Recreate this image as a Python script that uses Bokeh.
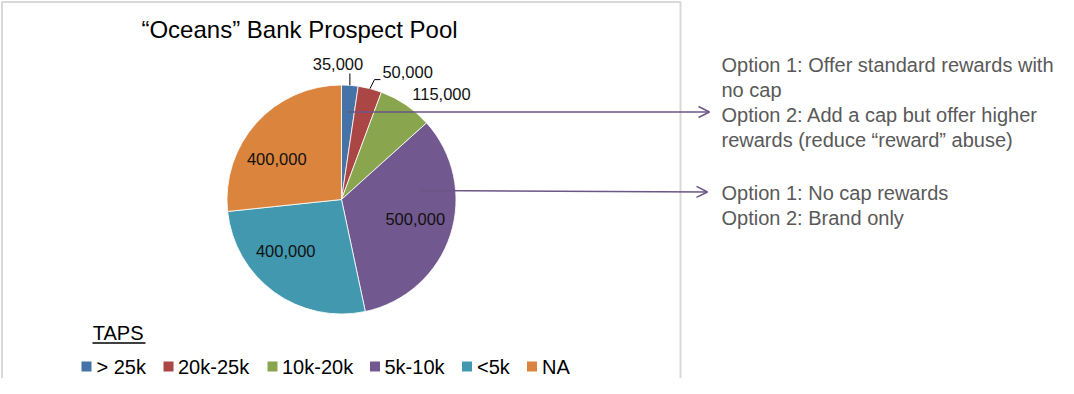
import numpy as np
from bokeh.plotting import figure
from bokeh.models import Range1d, Arrow, OpenHead, ColumnDataSource
from bokeh.core.properties import value
from bokeh.embed import file_html
from bokeh.resources import INLINE

# ---------------- data ----------------
categories = ["> 25k", "20k-25k", "10k-20k", "5k-10k", "<5k", "NA"]
values = [35000, 50000, 115000, 500000, 400000, 400000]
colors = ["#4572A7", "#AA4643", "#89A54E", "#71588F", "#4198AF", "#DB843D"]
title_text = "\u201cOceans\u201d Bank Prospect Pool"
legend_title = "TAPS"
note_lines_1 = ["Option 1: Offer standard rewards with", "no cap",
                "Option 2: Add a cap but offer higher",
                "rewards (reduce \u201creward\u201d abuse)"]
note_lines_2 = ["Option 1: No cap rewards", "Option 2: Brand only"]

# ---------------- layout / style ----------------
W, H = 1058, 378
PAGE_H = 394
FONT = "Liberation Sans"
CX, CY, R = 341.0, 199.0, 114.5          # pie centre/radius (page px)
# label placement: (radius factor, angle shift deg from slice mid)
label_polar = [(1.174, -5.7), (1.247, 13.2), (1.264, 9.5),
               (0.667, -2.9), (0.665, 11.1), (0.664, -10.4)]
legend_x = [81, 163, 267, 369.5, 461.5, 526.5]
legend_text_x = [96, 177.5, 281.5, 384, 476.5, 541.5]
BL = 0.4   # baseline correction (em) for svg text placement


def Y(py):
    return PAGE_H - py


def TY(baseline, fs):
    return Y(baseline - BL * fs)


p = figure(width=W, height=H, output_backend="svg", toolbar_location=None,
           x_range=Range1d(0, W), y_range=Range1d(Y(H), Y(0)),
           min_border=0, outline_line_color=None)
p.axis.visible = False
p.grid.visible = False
p.background_fill_color = "white"
p.border_fill_color = "white"

# chart frame
p.line([680, 680], [Y(1), Y(400)], line_color="#D9D9D9", line_width=2)
p.line([1, 680], [Y(1.5), Y(1.5)], line_color="#D9D9D9", line_width=2)
p.line([1.5, 1.5], [Y(1), Y(400)], line_color="#D9D9D9", line_width=2)

# ---------------- pie ----------------
vals = np.array(values, dtype=float)
frac = vals / vals.sum()
cum = np.concatenate([[0], np.cumsum(frac)])
start = np.pi / 2 - cum[:-1] * 2 * np.pi
end = np.pi / 2 - cum[1:] * 2 * np.pi
src = ColumnDataSource(dict(start=start, end=end, color=colors, cat=categories))
p.wedge(x=CX, y=Y(CY), radius=R, start_angle="start", end_angle="end",
        direction="clock", fill_color="color", line_color="white",
        line_width=0.8, source=src)

# data labels
LFS = 16.5
mid_deg = (cum[:-1] + cum[1:]) / 2 * 360.0   # clockwise from top
lx, ly, lt = [], [], []
for v, m, (f, s) in zip(values, mid_deg, label_polar):
    a = np.deg2rad(m + s)
    px = CX + np.sin(a) * R * f
    py = CY - np.cos(a) * R * f
    lx.append(px)
    ly.append(TY(py + 5.9, LFS))
    lt.append(f"{v:,}")
p.text(x=lx, y=ly, text=lt, text_font=value(FONT), text_font_size=f"{LFS}px",
       text_color="#111111", text_align="center", text_baseline="alphabetic")

# leader lines for the two thin slices
for i, elbow in [(0, None), (1, (4.5, -9, 6))]:
    a = np.deg2rad(mid_deg[i])
    ex = CX + np.sin(a) * R
    ey = CY - np.cos(a) * R
    if elbow is None:
        p.line([ex, ex], [Y(ey), Y(73)], line_color="black", line_width=1)
    else:
        dx, dy, hx = elbow
        p.line([ex, ex + dx, ex + dx + hx], [Y(ey), Y(ey + dy), Y(ey + dy)],
               line_color="black", line_width=1)

# title
p.text(x=[299], y=[TY(38.5, 24)], text=[title_text], text_font=value(FONT),
       text_font_size="24px", text_color="black", text_align="center",
       text_baseline="alphabetic")

# ---------------- legend ----------------
p.text(x=[92.3], y=[TY(340, 20)], text=[legend_title], text_font=value(FONT),
       text_font_size="20px", text_color="black", text_baseline="alphabetic")
p.line([92, 145], [Y(342.5), Y(342.5)], line_color="black", line_width=1.5)
p.rect(x=[x + 5 for x in legend_x], y=[Y(366)] * len(categories), width=10,
       height=10, fill_color=colors, line_color=None)
p.text(x=legend_text_x, y=[TY(374, 20)] * len(categories), text=categories,
       text_font=value(FONT), text_font_size="20px", text_color="black",
       text_baseline="alphabetic")

# ---------------- arrows & notes ----------------
ARROW_C = "#6B5686"
p.add_layout(Arrow(end=OpenHead(size=11, line_color=ARROW_C, line_width=1.5),
                   x_start=347, y_start=Y(111.5), x_end=709, y_end=Y(111.5),
                   line_color=ARROW_C, line_width=1.5))
p.add_layout(Arrow(end=OpenHead(size=11, line_color=ARROW_C, line_width=1.5),
                   x_start=418, y_start=Y(190), x_end=707, y_end=Y(191.5),
                   line_color=ARROW_C, line_width=1.5))

NFS = 20
p.text(x=[721] * 4, y=[TY(b, NFS) for b in [72, 97, 122, 147]],
       text=note_lines_1, text_font=value(FONT), text_font_size=f"{NFS}px",
       text_color="#595959", text_baseline="alphabetic")
p.text(x=[721] * 2, y=[TY(b, NFS) for b in [200, 225]], text=note_lines_2,
       text_font=value(FONT), text_font_size=f"{NFS}px", text_color="#595959",
       text_baseline="alphabetic")

open("out.html", "w").write(file_html(p, INLINE))
